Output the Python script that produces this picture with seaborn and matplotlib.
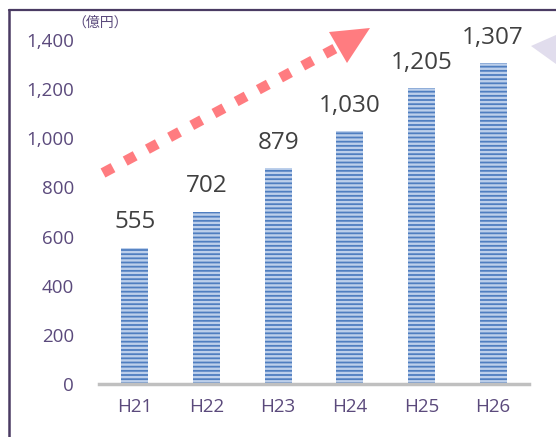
import matplotlib
matplotlib.use("Agg")
import matplotlib.pyplot as plt
from matplotlib.lines import Line2D
from matplotlib.patches import Polygon
import seaborn as sns
import pandas as pd

# Annual amounts (unit: 100 million yen)
years = ["H21", "H22", "H23", "H24", "H25", "H26"]
amounts = [555, 702, 879, 1030, 1205, 1307]
y_ticks = [0, 200, 400, 600, 800, 1000, 1200, 1400]
unit_label = "（億円）"

sns.set_style("white")
plt.rcParams["font.family"] = ["Open Sans", "Noto Sans CJK JP", "DejaVu Sans"]
plt.rcParams["hatch.linewidth"] = 1.7

W, H = 556, 437
fig = plt.figure(figsize=(W / 100, H / 100), dpi=100)
ax = fig.add_axes([99 / W, 1 - 384 / H, 430 / W, 344 / H])

df = pd.DataFrame({"year": years, "amount": amounts})
sns.barplot(data=df, x="year", y="amount", color="#4f7ec0", width=0.38,
            saturation=1, ax=ax)

# horizontal light stripes on the bars
for p in ax.patches:
    p.set_hatch("----")
    p.set_edgecolor("#bccfeb")
    p.set_linewidth(0)

ax.set_xlim(-0.5, len(years) - 0.5)
ax.set_ylim(0, 1400)
ax.set_yticks(y_ticks)
ax.set_yticklabels([f"{v:,}" for v in y_ticks])
ax.set_xlabel("")
ax.set_ylabel("")

purple = "#5b4a7c"
ax.tick_params(axis="y", length=0, pad=18, labelsize=13.5, labelcolor=purple)
ax.tick_params(axis="x", length=0, pad=10, labelsize=13.5, labelcolor=purple)

for s in ["top", "right", "left"]:
    ax.spines[s].set_visible(False)
ax.spines["bottom"].set_color("#c0c0c0")
ax.spines["bottom"].set_linewidth(2.5)

# value labels above bars
for i, v in enumerate(amounts):
    ax.annotate(f"{v:,}", xy=(i, v), xytext=(0, 9.5), textcoords="offset points",
                ha="center", va="bottom", fontsize=17.5, color="#404040")

# unit label
fig.text(72 / W, 1 - 23 / H, unit_label, fontsize=10, color=purple,
         ha="left", va="center", family=["Noto Sans CJK JP", "DejaVu Sans"])


def fx(px):
    return px / W


def fy(py):
    return 1 - py / H


# frame lines along the top and left
fig.add_artist(Line2D([fx(9), fx(W)], [fy(10), fy(10)], color="#4a3b63",
                      lw=1.6, transform=fig.transFigure))
fig.add_artist(Line2D([fx(9), fx(9)], [fy(10), fy(H)], color="#4a3b63",
                      lw=1.8, transform=fig.transFigure))

# dashed upward arrow
arrow_col = "#ff7c80"
fig.add_artist(Line2D([fx(103), fx(336)], [fy(173), fy(48)], color=arrow_col,
                      lw=7.4, linestyle=(0, (1.1, 1.35)), solid_capstyle="butt",
                      dash_capstyle="butt", transform=fig.transFigure))
fig.add_artist(Polygon([(fx(329), fy(32)), (fx(370), fy(28)), (fx(347), fy(63))],
                       closed=True, facecolor=arrow_col, edgecolor="none",
                       transform=fig.transFigure))

# pale pointer at the right edge
fig.add_artist(Polygon([(fx(531), fy(46)), (fx(W), fy(35)), (fx(W), fy(64))],
                       closed=True, facecolor="#e1dded", edgecolor="none",
                       transform=fig.transFigure))

fig.savefig("out.png", dpi=100)
